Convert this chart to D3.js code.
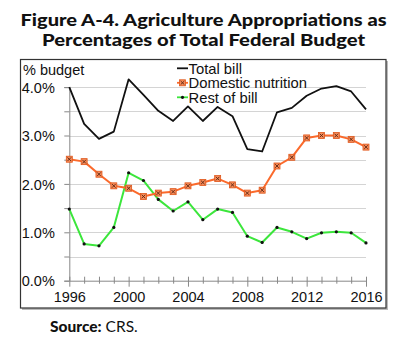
<!DOCTYPE html>
<html><head><meta charset="utf-8">
<script src="https://cdn.jsdelivr.net/npm/d3@7"></script>
<style>body{margin:0;background:#fff}svg{display:block}</style>
</head><body>
<svg id="c" width="400" height="343"></svg>
<script>
const years = d3.range(1996, 2017);
const totalBill = [4.00,3.24,2.93,3.08,4.16,3.84,3.51,3.30,3.60,3.30,3.59,3.40,2.72,2.67,3.48,3.57,3.82,3.97,4.02,3.91,3.54];
const domesticNutrition = [2.51,2.46,2.20,1.96,1.91,1.74,1.81,1.84,1.96,2.03,2.11,1.98,1.81,1.87,2.37,2.55,2.95,3.00,3.00,2.92,2.76];
const restOfBill = [1.48,0.76,0.72,1.10,2.23,2.07,1.68,1.44,1.63,1.26,1.48,1.41,0.92,0.79,1.10,1.01,0.87,0.99,1.01,0.99,0.78];
const yTicks = [0,1,2,3,4];
const yGrid = [0.5,1,1.5,2,2.5,3,3.5,4];
const xLabels = [1996,2000,2004,2008,2012,2016];
const titleLines = ["Figure A-4. Agriculture Appropriations as","Percentages of Total Federal Budget"];
const legendNames = ["Total bill","Domestic nutrition","Rest of bill"];

const svg = d3.select("#c");
const x = d3.scaleLinear().domain([1996,2016]).range([69.3,366]);
const y = d3.scaleLinear().domain([0,4]).range([280.7,87.1]);
const F = "'Liberation Sans', Arial, sans-serif";

// title
const tFont = "Lato, 'Open Sans', sans-serif";
const tWidths = [366, 323];
titleLines.forEach((t,i)=>{
  svg.append("text").attr("x",203.5).attr("y",[26,45.8][i])
    .attr("text-anchor","middle").attr("font-family",tFont).attr("font-weight","900")
    .attr("font-size",16.2).attr("fill","#111")
    .attr("textLength",tWidths[i]).attr("lengthAdjust","spacingAndGlyphs").text(t);
});

// frame with shadow
svg.append("rect").attr("x",22).attr("y",61).attr("width",366).attr("height",249).attr("fill","#bbb");
svg.append("rect").attr("x",20.5).attr("y",59.5).attr("width",365.5).attr("height",248.5)
  .attr("fill","#fff").attr("stroke","#333").attr("stroke-width",1.2);

// gridlines
svg.append("g").selectAll("line").data(yGrid).join("line")
  .attr("x1",x(1996)).attr("x2",x(2016)).attr("y1",d=>Math.round(y(d))+0.5).attr("y2",d=>Math.round(y(d))+0.5)
  .attr("stroke","#d4d4d4").attr("stroke-width",1.2);

// y axis
const ya = d3.axisLeft(y).tickValues(d3.range(0,4.01,0.5)).tickSize(5).tickFormat(d=> yTicks.includes(d)? d3.format(".1f")(d)+"%":"");
const yg = svg.append("g").attr("transform",`translate(${x(1996)},0)`).call(ya);
yg.select(".domain").attr("stroke","#888");
yg.selectAll(".tick line").attr("stroke","#888");
yg.selectAll("text").attr("font-family",F).attr("font-size",14.5).attr("fill","#111").attr("x",-14.5).attr("dy","0.36em");

// x axis
const xa = d3.axisBottom(x).tickValues(years).tickSize(0).tickFormat(d=> xLabels.includes(d)? d : "");
const xg = svg.append("g").attr("transform",`translate(0,${y(0)})`).call(xa);
xg.select(".domain").attr("stroke","#888");
xg.selectAll(".tick line").attr("stroke","#888").attr("y1",-4).attr("y2",d=> xLabels.includes(d)?6:3);
xg.selectAll("text").attr("font-family",F).attr("font-size",14.5).attr("fill","#111").attr("y",11).attr("dy","0.71em");

// "% budget"
svg.append("text").attr("x",23).attr("y",74.5).attr("font-family",F).attr("font-size",14.5).attr("fill","#111").text("% budget");

// lines
const line = d3.line().x((d,i)=>x(years[i])).y(d=>y(d));
svg.append("path").datum(totalBill).attr("d",line).attr("fill","none").attr("stroke","#111").attr("stroke-width",1.8).attr("stroke-linejoin","round");
svg.append("path").datum(restOfBill).attr("d",line).attr("fill","none").attr("stroke","#3ce63c").attr("stroke-width",2).attr("stroke-linejoin","round");
svg.append("path").datum(domesticNutrition).attr("d",line).attr("fill","none").attr("stroke","#fb6a2c").attr("stroke-width",2).attr("stroke-linejoin","round");

function drawSq(g, cx, cy){
  g.append("rect").attr("x",cx-3).attr("y",cy-3).attr("width",6).attr("height",6).attr("fill","#f58a58").attr("stroke","#e0561a").attr("stroke-width",0.8);
  g.append("path").attr("d",`M${cx-1.8},${cy-1.8}L${cx+1.8},${cy+1.8}M${cx-1.8},${cy+1.8}L${cx+1.8},${cy-1.8}`).attr("stroke","#5a2410").attr("stroke-width",0.9);
}
const mg = svg.append("g");
domesticNutrition.forEach((d,i)=>drawSq(mg, x(years[i]), y(d)));
svg.append("g").selectAll("circle").data(restOfBill).join("circle")
  .attr("cx",(d,i)=>x(years[i])).attr("cy",d=>y(d)).attr("r",1.6).attr("fill","#111");

// legend
const lg = svg.append("g");
const lyy = [68.3, 82.8, 97.3];
const lcol = ["#111","#fb6a2c","#3ce63c"];
legendNames.forEach((n,i)=>{
  lg.append("line").attr("x1",177).attr("x2",188).attr("y1",lyy[i]).attr("y2",lyy[i]).attr("stroke",lcol[i]).attr("stroke-width",1.8);
  lg.append("text").attr("x",188.5).attr("y",lyy[i]).attr("dy","0.36em").attr("font-family",F).attr("font-size",14.8).attr("fill","#111").text(n);
});
drawSq(lg, 182.5, lyy[1]);
lg.append("circle").attr("cx",182.5).attr("cy",lyy[2]).attr("r",1.6).attr("fill","#111");

// source
const s = svg.append("text").attr("x",50).attr("y",331.5).attr("font-family",tFont).attr("font-size",15.5).attr("fill","#111");
s.append("tspan").attr("font-weight","900").text("Source:");
s.append("tspan").text(" CRS.");
</script>
</body></html>
